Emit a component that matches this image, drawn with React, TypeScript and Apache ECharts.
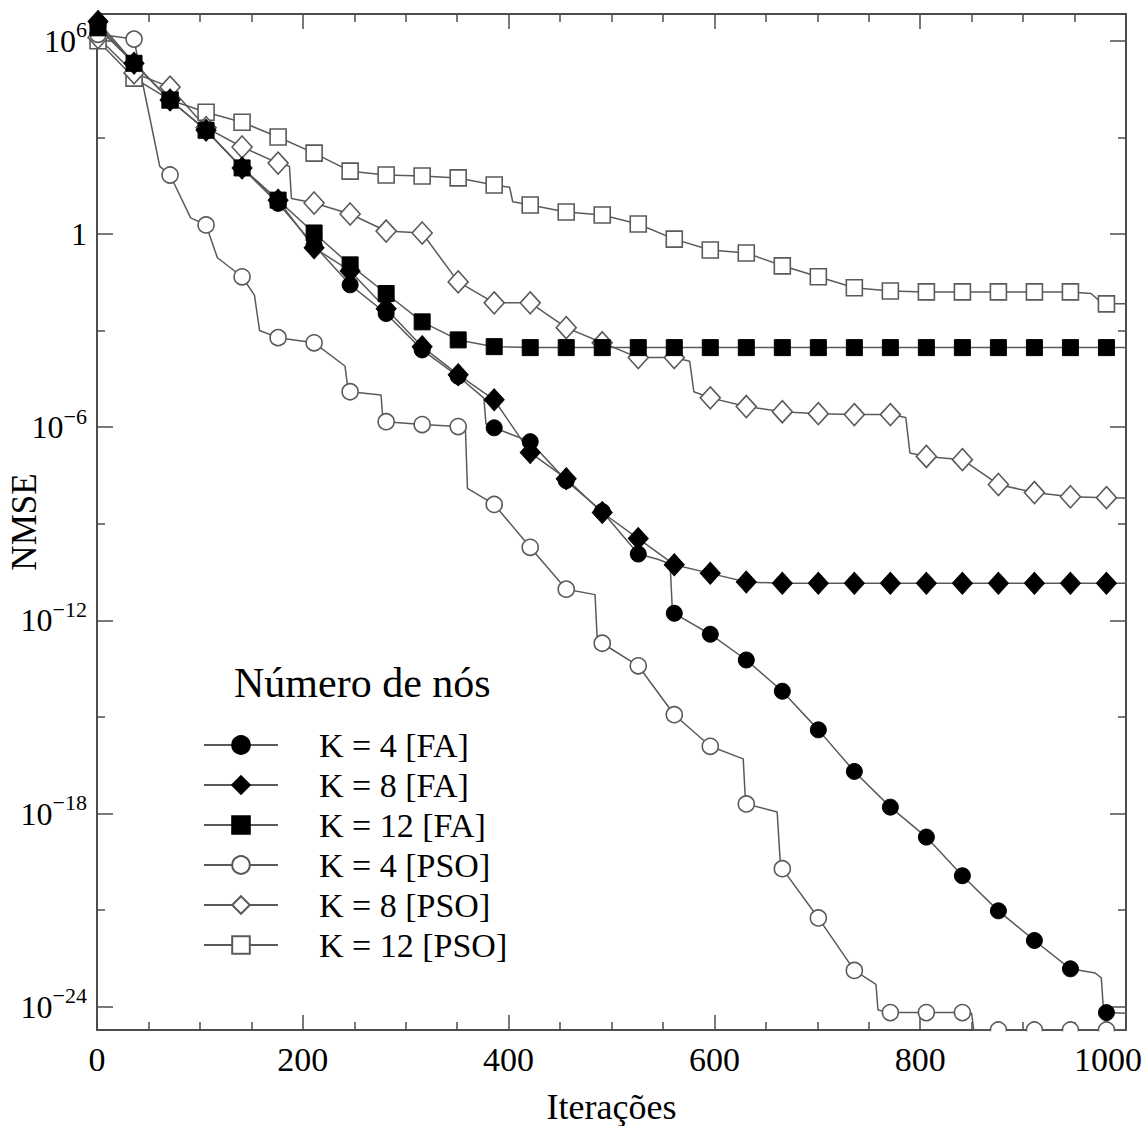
import React, { useEffect, useRef } from 'react';
import * as echarts from 'echarts';

// Iterations at which markers are drawn
const MARKER_ITERS = [1, 36, 71, 106, 141, 176, 211, 246, 281, 316, 351, 386, 421, 456, 491, 526, 561, 596, 631, 666, 701, 736, 771, 806, 841, 876, 911, 946, 981];

// Y axis: decades (NMSE = 10^exp)
const Y_MIN_EXP = -24.72;
const Y_MAX_EXP = 6.83;
const Y_LABEL_EXPS = [6, 0, -6, -12, -18, -24];
const Y_MINOR_EXPS = [3, -3, -9, -15, -21];

const SERIES_NAMES = ['K = 4 [FA]', 'K = 8 [FA]', 'K = 12 [FA]', 'K = 4 [PSO]', 'K = 8 [PSO]', 'K = 12 [PSO]'];

// Each point: [iteration, log10(NMSE)]
const K4_FA: [number, number][] = [
  [1, 6.5], [36, 5.3], [71, 4.16], [106, 3.22], [141, 2.05], [176, 0.95], [211, -0.35], [246, -1.58],
  [281, -2.47], [316, -3.6], [351, -4.42], [376, -5.1], [378, -5.9], [386, -6.02], [421, -6.45],
  [456, -7.66], [491, -8.62], [526, -9.94], [545, -10.1], [557, -10.25], [559, -11.6], [561, -11.78],
  [596, -12.43], [631, -13.23], [666, -14.2], [701, -15.4], [736, -16.69], [771, -17.8], [806, -18.73],
  [841, -19.93], [876, -21.02], [911, -21.94], [946, -22.82], [970, -22.95], [976, -23.1], [978, -24.05],
  [981, -24.18], [1000, -24.2],
];

const K8_FA: [number, number][] = [
  [1, 6.6], [36, 5.3], [71, 4.16], [106, 3.22], [141, 2.05], [176, 1.05], [211, -0.43], [246, -1.15],
  [281, -2.32], [316, -3.5], [351, -4.37], [386, -5.15], [421, -6.79], [456, -7.6], [491, -8.65],
  [526, -9.46], [561, -10.27], [596, -10.54], [631, -10.81], [666, -10.85], [701, -10.85], [736, -10.85],
  [771, -10.85], [806, -10.85], [841, -10.85], [876, -10.85], [911, -10.85], [946, -10.85], [981, -10.85],
  [1000, -10.85],
];

const K12_FA: [number, number][] = [
  [1, 6.4], [36, 5.3], [71, 4.16], [106, 3.22], [141, 2.05], [176, 1.05], [211, 0.03], [246, -0.96],
  [281, -1.85], [316, -2.73], [351, -3.29], [386, -3.5], [421, -3.53], [456, -3.53], [491, -3.53],
  [526, -3.53], [561, -3.53], [596, -3.53], [631, -3.53], [666, -3.53], [701, -3.53], [736, -3.53],
  [771, -3.53], [806, -3.53], [841, -3.53], [876, -3.53], [911, -3.53], [946, -3.53], [981, -3.53],
  [1000, -3.53],
];

const K4_PSO: [number, number][] = [
  [1, 6.2], [36, 6.05], [41, 5.2], [52, 3.5], [61, 2.1], [71, 1.83], [91, 0.5], [106, 0.28], [117, -0.74],
  [141, -1.33], [153, -1.9], [158, -3.0], [176, -3.22], [211, -3.38], [241, -4.1], [244, -4.85], [246, -4.9],
  [276, -5.0], [278, -5.8], [281, -5.83], [316, -5.92], [351, -5.98], [358, -6.0], [360, -7.9], [386, -8.4],
  [421, -9.73], [456, -11.03], [484, -11.2], [486, -12.5], [491, -12.71], [526, -13.41], [561, -14.93],
  [596, -15.91], [628, -16.3], [630, -17.5], [631, -17.7], [661, -17.95], [664, -19.5], [666, -19.71],
  [701, -21.24], [736, -22.87], [757, -23.3], [759, -24.1], [771, -24.18], [806, -24.18], [841, -24.18],
  [850, -24.2], [852, -24.72], [876, -24.72], [911, -24.72], [946, -24.72], [981, -24.72], [1000, -24.72],
];

const K8_PSO: [number, number][] = [
  [1, 6.1], [36, 5.0], [71, 4.56], [106, 3.3], [141, 2.7], [176, 2.2], [187, 2.1], [189, 1.1], [211, 0.96],
  [246, 0.62], [281, 0.09], [316, 0.03], [351, -1.49], [386, -2.14], [421, -2.14], [456, -2.91],
  [491, -3.38], [526, -3.84], [561, -3.84], [576, -3.95], [580, -4.9], [596, -5.09], [631, -5.36],
  [666, -5.52], [701, -5.58], [736, -5.61], [771, -5.61], [786, -5.7], [790, -6.8], [806, -6.91],
  [841, -7.01], [876, -7.78], [911, -8.03], [946, -8.16], [981, -8.19], [1000, -8.2],
];

const K12_PSO: [number, number][] = [
  [1, 6.0], [36, 4.84], [71, 4.16], [106, 3.78], [141, 3.47], [176, 3.01], [211, 2.51], [246, 1.95],
  [281, 1.83], [316, 1.8], [351, 1.74], [386, 1.52], [401, 1.45], [404, 1.0], [421, 0.9], [456, 0.68],
  [491, 0.59], [526, 0.31], [561, -0.16], [596, -0.5], [631, -0.59], [666, -0.99], [701, -1.33],
  [736, -1.67], [771, -1.77], [806, -1.8], [841, -1.8], [876, -1.8], [911, -1.8], [946, -1.8],
  [966, -1.85], [975, -2.1], [981, -2.17], [1000, -2.17],
];

const FONT = "'Liberation Serif', 'Times New Roman', serif";
const FRAME = '#4d4d4d';
const LINE = '#5a5a5a';

function toData(points: [number, number][]) {
  return points.map(([it, e]) => {
    const item: any = { value: [it, Math.pow(10, e)] };
    if (MARKER_ITERS.indexOf(it) < 0) item.symbol = 'none';
    return item;
  });
}

export default function App() {
  const ref = useRef<HTMLDivElement>(null);

  useEffect(() => {
    if (!ref.current) return;
    const chart = echarts.init(ref.current, undefined, { renderer: 'svg' });

    const labelVals = Y_LABEL_EXPS.map((e) => Math.pow(10, e));
    const minorVals = Y_MINOR_EXPS.map((e) => Math.pow(10, e));
    const frameLine = { color: FRAME, width: 2 };

    const yCommon: any = {
      type: 'log',
      logBase: 10,
      min: Math.pow(10, Y_MIN_EXP),
      max: Math.pow(10, Y_MAX_EXP),
      splitLine: { show: false },
      minorTick: { show: false },
    };

    const xCommon: any = {
      type: 'value',
      min: 0,
      max: 1000,
      interval: 200,
      splitLine: { show: false },
      axisLine: { show: true, onZero: false, lineStyle: frameLine },
      axisTick: { show: true, inside: true, length: 15, lineStyle: { color: FRAME, width: 1.5 } },
      minorTick: { show: true, splitNumber: 4, length: 8, lineStyle: { color: FRAME, width: 1.5 } },
    };

    const mk = (name: string, pts: [number, number][], symbol: string, size: any, filled: boolean, z: number) => ({
      name,
      type: 'line',
      data: toData(pts),
      symbol,
      symbolSize: size,
      showAllSymbol: true,
      z,
      lineStyle: { color: LINE, width: 1.5 },
      itemStyle: filled
        ? { color: '#000', borderColor: '#000', borderWidth: 1 }
        : { color: '#fff', borderColor: LINE, borderWidth: 1.6 },
      emphasis: { disabled: true },
    });

    chart.setOption({
      animation: false,
      backgroundColor: '#fff',
      title: {
        text: 'Número de nós',
        left: 234,
        top: 662,
        padding: 0,
        textStyle: { fontSize: 42, fontWeight: 'normal', fontFamily: FONT, color: '#000' },
      },
      legend: {
        data: SERIES_NAMES,
        orient: 'vertical',
        left: 203,
        top: 728,
        padding: 0,
        itemWidth: 74,
        itemHeight: 22,
        itemGap: 6,
        selectedMode: false,
        lineStyle: { width: 2 },
        textStyle: { fontSize: 34, lineHeight: 34, fontFamily: FONT, color: '#000', padding: [0, 0, 0, 36] },
      },
      grid: { left: 97, right: 16, top: 14, bottom: 96, containLabel: false, outerBoundsMode: 'none' },
      graphic: [
        {
          // keeps markers sitting on the lower frame from spilling below it
          type: 'rect',
          shape: { x: 98, y: 1031.2, width: 1028, height: 9 },
          style: { fill: '#fff' },
          z: 100,
          silent: true,
        },
      ],
      xAxis: [
        {
          ...xCommon,
          position: 'bottom',
          name: 'Iterações',
          nameLocation: 'middle',
          nameGap: 60,
          nameMoveOverlap: false,
          nameTextStyle: { fontSize: 36, lineHeight: 34, fontFamily: FONT, color: '#000' },
          axisLabel: {
            show: true,
            margin: 12,
            fontSize: 34,
            fontFamily: FONT,
            color: '#000',
            formatter: (v: number) => (v === 1000 ? '{r|1000}' : String(v)),
            rich: { r: { fontSize: 34, fontFamily: FONT, color: '#000', padding: [0, 36, 0, 0] } },
          },
        },
        { ...xCommon, position: 'top', axisLabel: { show: false } },
      ],
      yAxis: [
        {
          ...yCommon,
          position: 'left',
          name: 'NMSE',
          nameLocation: 'middle',
          nameGap: 56,
          nameMoveOverlap: false,
          nameTextStyle: { fontSize: 35, lineHeight: 34, fontFamily: FONT, color: '#000' },
          axisLine: { show: true, lineStyle: frameLine },
          axisTick: { show: true, inside: true, length: 16, customValues: labelVals, lineStyle: { color: FRAME, width: 1.5 } },
          axisLabel: {
            show: true,
            margin: 10,
            customValues: labelVals,
            formatter: (v: number) => {
              const e = Math.round(Math.log10(v));
              if (e === 0) return '{b|1}';
              return '{b|10}{s|' + (e < 0 ? '\u2212' + -e : String(e)) + '}';
            },
            rich: {
              b: { fontSize: 32, lineHeight: 32, fontFamily: FONT, color: '#000', verticalAlign: 'bottom' },
              s: { fontSize: 22, lineHeight: 22, fontFamily: FONT, color: '#000', verticalAlign: 'bottom', padding: [0, 0, 16, 0] },
            },
          },
        },
        {
          ...yCommon,
          position: 'left',
          axisLine: { show: false },
          axisTick: { show: true, inside: true, length: 8, customValues: minorVals, lineStyle: { color: FRAME, width: 1.5 } },
          axisLabel: { show: false },
        },
        {
          ...yCommon,
          position: 'right',
          axisLine: { show: true, lineStyle: frameLine },
          axisTick: { show: true, inside: true, length: 16, customValues: labelVals, lineStyle: { color: FRAME, width: 1.5 } },
          axisLabel: { show: false },
        },
        {
          ...yCommon,
          position: 'right',
          axisLine: { show: false },
          axisTick: { show: true, inside: true, length: 8, customValues: minorVals, lineStyle: { color: FRAME, width: 1.5 } },
          axisLabel: { show: false },
        },
      ],
      series: [
        mk('K = 12 [PSO]', K12_PSO, 'rect', 16, false, 2),
        mk('K = 8 [PSO]', K8_PSO, 'diamond', [20, 22], false, 2),
        mk('K = 4 [PSO]', K4_PSO, 'circle', 16, false, 2),
        mk('K = 12 [FA]', K12_FA, 'rect', 16, true, 3),
        mk('K = 8 [FA]', K8_FA, 'diamond', [20, 22], true, 3),
        mk('K = 4 [FA]', K4_FA, 'circle', 16, true, 3),
      ],
    });

    return () => chart.dispose();
  }, []);

  return (
    <div
      ref={ref}
      style={{ position: 'absolute', left: 0, top: 0, width: 1142, height: 1126, background: '#fff' }}
    />
  );
}
